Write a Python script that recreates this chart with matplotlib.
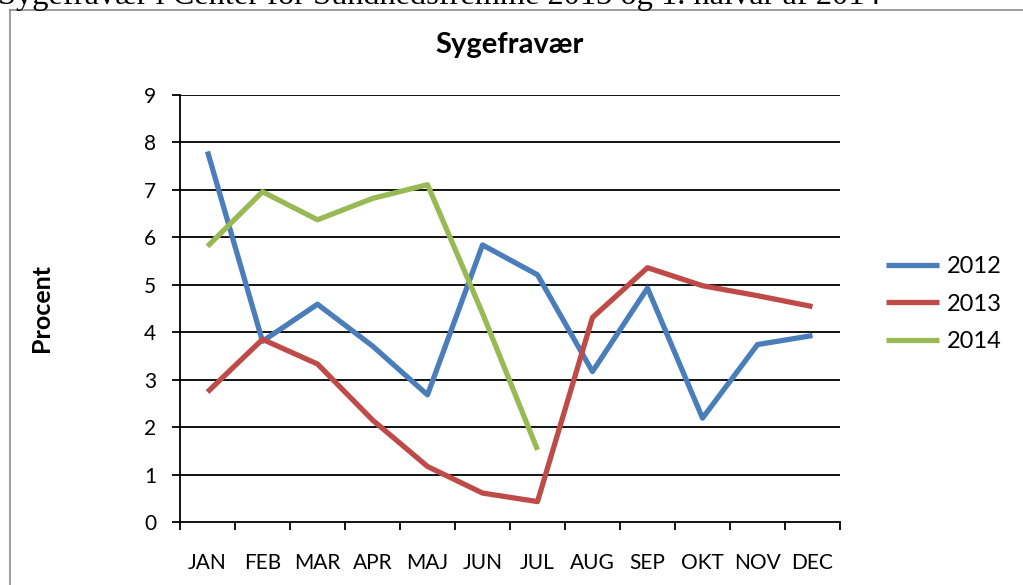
import matplotlib.pyplot as plt
from matplotlib.lines import Line2D

# data
months = ['JAN', 'FEB', 'MAR', 'APR', 'MAJ', 'JUN', 'JUL', 'AUG', 'SEP', 'OKT', 'NOV', 'DEC']
sick_2012 = [7.81, 3.81, 4.59, 3.71, 2.68, 5.84, 5.21, 3.17, 4.93, 2.19, 3.74, 3.93]
sick_2013 = [2.74, 3.85, 3.33, 2.15, 1.17, 0.61, 0.43, 4.31, 5.36, 4.98, 4.77, 4.54]
sick_2014 = [5.81, 6.96, 6.37, 6.82, 7.11, 4.4, 1.52]
yticks = list(range(0, 10))

W, H = 1023, 585
font = 'Lato'

fig = plt.figure(figsize=(W / 100, H / 100), dpi=100)

# page caption partly cut off at the top, plus chart border
fig.text(-2 / W, 1 - 4 / H, 'Sygefravær i Center for Sundhedsfremme 2013 og 1. halvår af 2014',
         family='Liberation Serif', fontsize=23.3, ha='left', va='baseline')
fig.add_artist(Line2D([10 / W, 1.0], [1 - 10 / H, 1 - 10 / H], color='#8c8c8c', lw=1.2))
fig.add_artist(Line2D([10 / W, 10 / W], [0.0, 1 - 10 / H], color='#8c8c8c', lw=1.2))

ax = fig.add_axes([180 / W, 63 / H, 660 / W, 427 / H])

x = range(len(months))
ax.plot(x, sick_2012, color='#4A7EBB', lw=3.8, label='2012', solid_capstyle='butt')
ax.plot(x, sick_2013, color='#BE4B48', lw=3.8, label='2013', solid_capstyle='butt')
ax.plot(range(len(sick_2014)), sick_2014, color='#98B954', lw=3.8, label='2014', solid_capstyle='butt')

ax.set_xlim(-0.5, 11.5)
ax.set_ylim(0, 9)
ax.set_yticks(yticks)
ax.set_yticklabels([str(v) for v in yticks], family=font, fontsize=15)
ax.set_xticks(list(x))
ax.set_xticklabels(months, family=font, fontsize=15)
ax.set_xticks([i - 0.5 for i in range(13)], minor=True)
ax.tick_params(axis='x', which='major', length=0, pad=22)
ax.tick_params(axis='x', which='minor', length=6, width=1.3, direction='out')
ax.tick_params(axis='y', length=6, width=1.3, pad=11)

for v in yticks[1:]:
    ax.axhline(v, color='black', lw=1.3, zorder=0.5)
for side in ['top', 'right']:
    ax.spines[side].set_visible(False)
for side in ['left', 'bottom']:
    ax.spines[side].set_linewidth(1.3)

ax.set_title('Sygefravær', family=font, fontweight='bold', fontsize=21, pad=30)
ax.set_ylabel('Procent', family=font, fontweight='bold', fontsize=18, labelpad=66)

ax.legend(loc='center left', bbox_to_anchor=(1.07, 0.51), frameon=False,
          prop={'family': font, 'size': 17}, handlelength=2.25, handletextpad=0.3,
          labelspacing=0.7, borderpad=0, borderaxespad=0)

fig.savefig('out.png', dpi=100)
